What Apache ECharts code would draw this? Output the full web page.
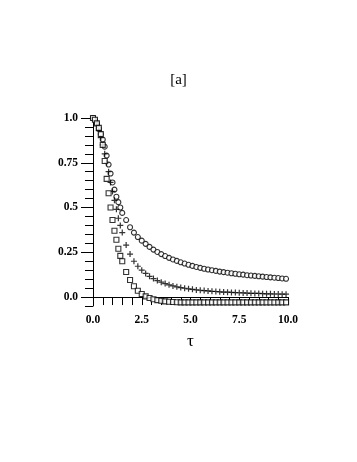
<!DOCTYPE html>
<html><head><meta charset="utf-8">
<script src="https://cdn.jsdelivr.net/npm/echarts@6/dist/echarts.min.js"></script>
<style>html,body{margin:0;padding:0;background:#fff}#c{width:357px;height:462px}</style>
</head><body><div id="c"></div>
<script>
var tau = [0,0.1,0.2,0.3,0.4,0.5,0.6,0.7,0.8,0.9,1.0,1.1,1.2,1.3,1.4,1.5,1.7,1.9,2.1,2.3,2.5,2.7,2.9,3.1,3.3,3.5,3.7,3.9,4.1,4.3,4.5,4.7,4.9,5.1,5.3,5.5,5.7,5.9,6.1,6.3,6.5,6.7,6.9,7.1,7.3,7.5,7.7,7.9,8.1,8.3,8.5,8.7,8.9,9.1,9.3,9.5,9.7,9.9];
var circles = [1.0,0.99,0.97,0.94,0.91,0.88,0.84,0.79,0.74,0.69,0.64,0.60,0.56,0.53,0.50,0.47,0.43,0.39,0.36,0.335,0.315,0.297,0.28,0.265,0.252,0.240,0.229,0.219,0.210,0.202,0.194,0.187,0.180,0.174,0.168,0.163,0.158,0.154,0.150,0.146,0.142,0.139,0.136,0.133,0.130,0.127,0.125,0.122,0.120,0.118,0.116,0.114,0.112,0.110,0.108,0.106,0.104,0.102];
var pluses = [1.0,0.99,0.965,0.93,0.89,0.85,0.80,0.75,0.70,0.64,0.59,0.54,0.49,0.44,0.40,0.36,0.29,0.24,0.20,0.172,0.150,0.132,0.116,0.103,0.092,0.083,0.075,0.068,0.062,0.057,0.053,0.049,0.046,0.043,0.040,0.038,0.036,0.034,0.032,0.031,0.029,0.028,0.027,0.026,0.025,0.024,0.023,0.022,0.021,0.020,0.020,0.019,0.018,0.018,0.017,0.017,0.016,0.016];
var squares = [1.0,0.99,0.97,0.945,0.91,0.85,0.76,0.66,0.58,0.50,0.43,0.37,0.32,0.27,0.23,0.20,0.14,0.095,0.06,0.035,0.017,0.004,-0.005,-0.012,-0.017,-0.021,-0.024,-0.026,-0.028,-0.029,-0.030,-0.030,-0.030,-0.030,-0.030,-0.030,-0.030,-0.030,-0.030,-0.030,-0.030,-0.030,-0.030,-0.030,-0.030,-0.030,-0.030,-0.030,-0.030,-0.030,-0.030,-0.030,-0.030,-0.030,-0.030,-0.030,-0.030,-0.030];
var yMinorTicks = [-0.05,0,0.05,0.1,0.15,0.2,0.25,0.3,0.35,0.4,0.45,0.5,0.55,0.6,0.65,0.7,0.75,0.8,0.85,0.9,0.95,1.0];
var yMajorTicks = [0,0.25,0.5,0.75,1.0];
var yLabels = ['0.0','0.25','0.5','0.75','1.0'];
var xTicks = [0,0.5,1,1.5,2,2.5,3,3.5,4,4.5,5,5.5,6,6.5,7,7.5,8,8.5,9,9.5,10];
var xLabelValues = [0,2.5,5,7.5,10];
var xLabels = ['0.0','2.5','5.0','7.5','10.0'];

function pairs(ys){ return tau.map(function(t,i){ return [t, ys[i]]; }); }
var font = 'Liberation Serif';
var chart = echarts.init(document.getElementById('c'), null, {renderer:'canvas'});
var base = {type:'scatter', silent:true, z:5};
chart.setOption({
  animation:false,
  backgroundColor:'#fff',
  title:{text:'[a]', left:'center', top:68, textStyle:{fontFamily:font, fontWeight:'normal', fontSize:15, color:'#000'}},
  grid:{left:93, right:69, top:118, bottom:156, containLabel:false},
  xAxis:{type:'value', min:0, max:10, name:'τ', nameLocation:'middle', nameGap:27,
    nameTextStyle:{fontFamily:font, fontSize:17, color:'#000'},
    axisLine:{onZero:true, onZeroAxisIndex:0, lineStyle:{color:'#000', width:1}},
    axisTick:{show:true, inside:false, length:8, customValues:xTicks, lineStyle:{color:'#000'}},
    axisLabel:{customValues:xLabelValues, margin:8, fontFamily:font, fontWeight:'bold', fontSize:11.5, color:'#000',
      formatter:function(v){ var i = xLabelValues.indexOf(v); return i>=0 ? xLabels[i] : ''; }},
    splitLine:{show:false}},
  yAxis:[
    {type:'value', min:-0.05, max:1.0, position:'left',
      axisLine:{show:true, onZero:false, lineStyle:{color:'#000'}},
      axisTick:{show:true, length:8, customValues:yMinorTicks, lineStyle:{color:'#000'}},
      axisLabel:{show:false}, splitLine:{show:false}},
    {type:'value', min:-0.05, max:1.0, position:'left', offset:0,
      axisLine:{show:false, onZero:false},
      axisTick:{show:true, length:12, customValues:yMajorTicks, lineStyle:{color:'#000'}},
      axisLabel:{customValues:yMajorTicks, margin:15, fontFamily:font, fontWeight:'bold', fontSize:11.5, color:'#000',
        formatter:function(v){ var i = yMajorTicks.indexOf(v); return i>=0 ? yLabels[i] : ''; }},
      splitLine:{show:false}}
  ],
  series:[
    Object.assign({}, base, {name:'circles', data:pairs(circles), symbol:'circle', symbolSize:5,
      itemStyle:{color:'#fff', borderColor:'#000', borderWidth:1.1}}),
    Object.assign({}, base, {name:'pluses', data:pairs(pluses), symbol:'path://M0,5L10,5M5,0L5,10', symbolSize:6,
      itemStyle:{color:'none', borderColor:'#000', borderWidth:1.2}}),
    Object.assign({}, base, {name:'squares', data:pairs(squares), symbol:'rect', symbolSize:5,
      itemStyle:{color:'#fff', borderColor:'#000', borderWidth:1.1}})
  ]
});
</script></body></html>
